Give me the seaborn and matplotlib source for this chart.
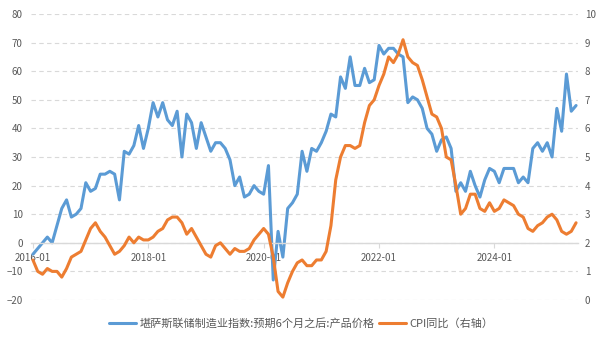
import numpy as np
import pandas as pd
import matplotlib
matplotlib.use('Agg')
import matplotlib.pyplot as plt
import seaborn as sns

# ---- data ----
months = pd.period_range('2016-01', '2025-06', freq='M').strftime('%Y-%m').tolist()

kc_prices_6m = [
    -4, -2, 0, 2, 0, 6, 12, 15, 9, 10, 12, 21,
    18, 19, 24, 24, 25, 24, 15, 32, 31, 34, 41, 33,
    40, 49, 44, 49, 43, 41, 46, 30, 45, 42, 33, 42,
    37, 32, 35, 35, 33, 29, 20, 23, 16, 17, 20, 18,
    17, 27, -13, 4, -5, 12, 14, 17, 32, 25, 33, 32,
    35, 39, 45, 44, 58, 54, 65, 55, 55, 61, 56, 57,
    69, 66, 68, 68, 66, 65, 49, 51, 50, 47, 40, 38,
    32, 36, 37, 33, 18, 21, 18, 25, 20, 16, 22, 26,
    25, 21, 26, 26, 26, 21, 23, 21, 33, 35, 32, 35,
    30, 47, 39, 59, 46, 48,
]

cpi_yoy = [
    1.4, 1.0, 0.9, 1.1, 1.0, 1.0, 0.8, 1.1, 1.5, 1.6, 1.7, 2.1,
    2.5, 2.7, 2.4, 2.2, 1.9, 1.6, 1.7, 1.9, 2.2, 2.0, 2.2, 2.1,
    2.1, 2.2, 2.4, 2.5, 2.8, 2.9, 2.9, 2.7, 2.3, 2.5, 2.2, 1.9,
    1.6, 1.5, 1.9, 2.0, 1.8, 1.6, 1.8, 1.7, 1.7, 1.8, 2.1, 2.3,
    2.5, 2.3, 1.5, 0.3, 0.1, 0.6, 1.0, 1.3, 1.4, 1.2, 1.2, 1.4,
    1.4, 1.7, 2.6, 4.2, 5.0, 5.4, 5.4, 5.3, 5.4, 6.2, 6.8, 7.0,
    7.5, 7.9, 8.5, 8.3, 8.6, 9.1, 8.5, 8.3, 8.2, 7.7, 7.1, 6.5,
    6.4, 6.0, 5.0, 4.9, 4.0, 3.0, 3.2, 3.7, 3.7, 3.2, 3.1, 3.4,
    3.1, 3.2, 3.5, 3.4, 3.3, 3.0, 2.9, 2.5, 2.4, 2.6, 2.7, 2.9,
    3.0, 2.8, 2.4, 2.3, 2.4, 2.7,
]

x_tick_labels = ['2016-01', '2018-01', '2020-01', '2022-01', '2024-01']
left_ticks = [-20, -10, 0, 10, 20, 30, 40, 50, 60, 70, 80]
right_ticks = [0, 1, 2, 3, 4, 5, 6, 7, 8, 9, 10]
series_names = ['堪萨斯联储制造业指数:预期6个月之后:产品价格', 'CPI同比（右轴）']

df = pd.DataFrame({
    'month': months,
    'idx': np.arange(len(months)),
    'kc': kc_prices_6m,
    'cpi': cpi_yoy,
})

# ---- style ----
sns.set_style('white')
plt.rcParams['font.family'] = ['Noto Sans CJK SC', 'DejaVu Sans']

BLUE = '#5B9BD5'
ORANGE = '#ED7D31'
TXT = '#595959'
GRID = '#d9d9d9'

fig = plt.figure(figsize=(6.06, 3.42), dpi=100)
ax = fig.add_axes([31 / 606, 42 / 342, 547 / 606, 286 / 342])
ax2 = ax.twinx()

sns.lineplot(data=df, x='idx', y='kc', ax=ax, color=BLUE, linewidth=2.2,
             legend=False)
sns.lineplot(data=df, x='idx', y='cpi', ax=ax2, color=ORANGE, linewidth=2.2,
             legend=False)

n = len(months)
ax.set_xlim(-0.4, n - 1 + 0.4)
ax.set_ylim(-20, 80)
ax2.set_ylim(0, 10)

ax.set_yticks(left_ticks)
ax2.set_yticks(right_ticks)
ax.set_xticks([months.index(t) for t in x_tick_labels])
ax.set_xticklabels(x_tick_labels)

ax.set_xlabel('')
ax.set_ylabel('')
ax2.set_ylabel('')

# grid
ax.yaxis.grid(True, color=GRID, linestyle=(0, (4, 3)), linewidth=0.8)
ax.xaxis.grid(False)
ax.set_axisbelow(True)

for sp in ['top', 'right', 'left']:
    ax.spines[sp].set_visible(False)
for sp in ['top', 'right', 'left', 'bottom']:
    ax2.spines[sp].set_visible(False)
ax.spines['bottom'].set_position(('data', 0))
ax.spines['bottom'].set_color(GRID)
ax.spines['bottom'].set_linewidth(1.0)

ax.tick_params(axis='x', direction='out', length=3.5, width=0.8, color=GRID,
               labelcolor=TXT, labelsize=7, pad=4, bottom=True)
ax.tick_params(axis='y', length=0, labelcolor=TXT, labelsize=7, pad=6)
ax2.tick_params(axis='y', length=0, labelcolor=TXT, labelsize=7, pad=5)

handles = [ax.lines[0], ax2.lines[0]]
fig.legend(handles, series_names, loc='center', bbox_to_anchor=(0.497, 0.053),
           ncol=2, frameon=False, fontsize=8, handlelength=2.4,
           handletextpad=0.35, columnspacing=0.4, labelcolor=TXT)

fig.savefig('out.png', dpi=100)
